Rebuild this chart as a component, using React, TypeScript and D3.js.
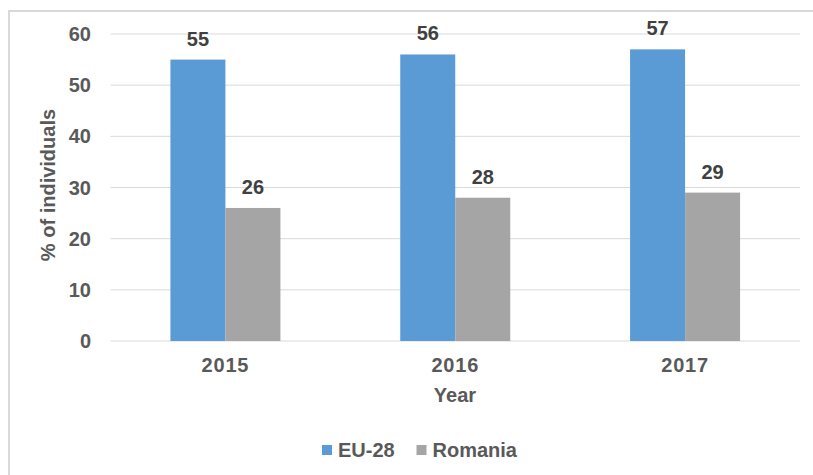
import React from "react";
import * as d3 from "d3";

const years = ["2015", "2016", "2017"];
const seriesNames = ["EU-28", "Romania"];
const eu28 = [55, 56, 57];
const romania = [26, 28, 29];
const yTicks = [0, 10, 20, 30, 40, 50, 60];
const colors = ["#5B9BD5", "#A5A5A5"];

export default function App() {
  const W = 813, H = 475;
  const left = 110.5, right = 800, top = 34, bottom = 341;
  const x = d3.scaleBand<string>().domain(years).range([left, right]).paddingInner(0).paddingOuter(0);
  const y = d3.scaleLinear().domain([0, 60]).range([bottom, top]);
  const barW = 55;
  const series = [eu28, romania];
  const font = "'Liberation Sans', Arial, sans-serif";
  const fs = 20;
  return (
    <svg width={W} height={H} style={{ position: "absolute", left: 0, top: 0, background: "#fff" }} fontFamily={font}>
      <line x1={9} x2={9} y1={11} y2={H} stroke="#d9d9d9" strokeWidth={2} />
      <line x1={8} x2={W} y1={11} y2={11} stroke="#d9d9d9" strokeWidth={2} />
      {yTicks.map((t) => (
        <g key={t}>
          <line x1={left} x2={right} y1={y(t)} y2={y(t)} stroke="#d9d9d9" strokeWidth={1} />
          <text x={91} y={y(t) + 7} textAnchor="end" fontSize={fs} fontWeight="bold" fill="#595959">{t}</text>
        </g>
      ))}
      {years.map((yr, i) => {
        const cx = (x(yr) as number) + x.bandwidth() / 2;
        return (
          <g key={yr}>
            {series.map((s, j) => {
              const bx = cx - barW + j * barW;
              return (
                <g key={j}>
                  <rect x={bx} y={y(s[i])} width={barW} height={y(0) - y(s[i])} fill={colors[j]} />
                  <text x={bx + barW / 2} y={y(s[i]) - 14} textAnchor="middle" fontSize={fs} fontWeight="bold" fill="#404040">{s[i]}</text>
                </g>
              );
            })}
            <text x={cx} y={372} textAnchor="middle" fontSize={fs} fontWeight="bold" fill="#595959" letterSpacing={0.8}>{yr}</text>
          </g>
        );
      })}
      <text x={455} y={402} textAnchor="middle" fontSize={fs} fontWeight="bold" fill="#595959">Year</text>
      <text transform={`translate(55,185) rotate(-90)`} textAnchor="middle" fontSize={fs} fontWeight="bold" fill="#595959">% of individuals</text>
      {seriesNames.map((n, j) => {
        const lx = j === 0 ? 322 : 416.5;
        return (
          <g key={n}>
            <rect x={lx} y={445} width={10} height={10} fill={colors[j]} />
            <text x={lx + 16} y={457} fontSize={fs} fontWeight="bold" fill="#595959">{n}</text>
          </g>
        );
      })}
    </svg>
  );
}
